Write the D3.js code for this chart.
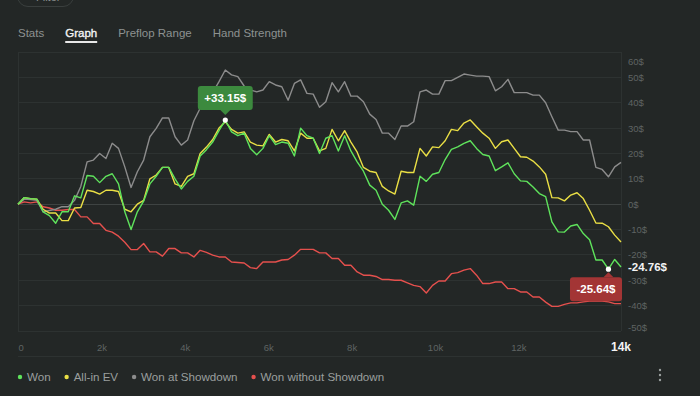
<!DOCTYPE html>
<html>
<head>
<meta charset="utf-8">
<script src="https://cdn.jsdelivr.net/npm/d3@7"></script>
<style>
  html, body { margin: 0; padding: 0; background: #232726; overflow: hidden; }
  svg { display: block; font-family: "Liberation Sans", Arial, sans-serif; }
</style>
</head>
<body>
<script>
const tabs = ['Stats', 'Graph', 'Preflop Range', 'Hand Strength']
const activeTab = 'Graph'

const totalHands = 14460
const xTicks = [0, 2000, 4000, 6000, 8000, 10000, 12000]
const yTicks = [-50, -40, -30, -20, -10, 0, 10, 20, 30, 40, 50, 60]

// cumulative winnings ($), sampled evenly from hand 0 to totalHands
const won = [0, 2.6, 2.2, 2.0, -3, -4.5, -7.5, -3, -3, 3.3,
  2.5, 11.3, 11, 8.5, 11, 12, 8, -3, -10, -3,
  1.2, 8, 11, 14.5, 14.5, 10, 6, 9, 11, 19,
  21.5, 24.5, 29, 33.15, 28.5, 27, 28, 22, 19.5, 22,
  27, 23.5, 24.5, 24, 19, 30, 27, 26, 20, 26,
  27, 21, 27, 21, 16.7, 13, 7.5, 5.5, 0, -2.4,
  -6, 0.5, 1.3, -0.4, 11, 9, 11.8, 12.5, 17.6, 21.6,
  22.6, 24, 25, 22, 19.6, 19, 13.2, 14.7, 16.3, 12,
  9.2, 9, 6.8, 4.2, 3, -7, -10.9, -11, -8.6, -8,
  -11.6, -14, -22, -22, -25.64, -21.8, -24.76]

const allInEv = [0, 2.6, 2.2, 2.0, -2, -3.5, -3.5, -6.5, -6.5, -1.5,
  -1.3, 5.5, 5, 4, 5.5, 5.5, 5, -2, -3, 0,
  1.5, 10, 11.5, 14.5, 14.5, 8, 7, 11, 12, 20,
  22.5, 25.5, 30, 32.5, 29.5, 28, 28.5, 24.5, 23.3, 23,
  27.5, 24.5, 25.5, 25, 21, 28, 26, 26, 21, 22,
  29.5, 25, 29, 24.5, 20.5, 14.5, 13, 12.5, 7, 5.2,
  4, 13, 12.5, 12.5, 22, 19, 22.6, 22.3, 25, 29.5,
  29, 32, 33.2, 30.5, 28, 26, 22, 24.6, 25.3, 22,
  18.7, 18.5, 17, 14.7, 11.8, 2.6, 2.5, 1.3, 3.6, 4.5,
  2.2, -2.4, -7.4, -7.5, -8.9, -12.2, -14.9]

const wonShowdown = [0, 2, 1.8, 1.5, -3, -2.5, -2, -1, -1, 1.5,
  7, 16.7, 17.4, 20, 18, 24, 22, 14.7, 6.6, 12.8,
  17.4, 26.6, 29.9, 34, 34, 26.6, 23.3, 25.3, 32.9, 37.8,
  41, 44, 48.3, 52.9, 51, 50.3, 46.6, 45, 44.3, 45,
  48.3, 47, 46.3, 41, 47.6, 49, 43.7, 43.4, 38.2, 40.4,
  47.9, 44.3, 48.3, 42.6, 42.6, 40.4, 35.5, 33.4, 28, 28,
  25.5, 30.8, 30.8, 32.5, 44.3, 45, 43.4, 43.4, 48.7, 48.7,
  50, 51.3, 50.9, 50.5, 50.5, 50.3, 44.7, 46.3, 49.2, 44,
  44, 44, 43, 43, 40, 34.5, 29.2, 29.2, 28.6, 28.6,
  25.3, 25.3, 14.5, 13.7, 10.8, 14.7, 16.5]

const wonNoShowdown = [0, 0.9, 0.5, 0.9, -1, -1.5, -2.4, -2.4, -2.1, -2.1,
  -5, -5, -7.6, -7.6, -10.3, -11, -12.6, -15, -17.9, -17.9,
  -15.5, -18.8, -18.8, -20.5, -17.5, -17.5, -19.2, -19.2, -20.8, -18.2,
  -19, -20.1, -20.8, -20.8, -22.8, -23, -23.2, -25, -25.4, -22.8,
  -22.8, -22.8, -22, -21.8, -20.1, -17.8, -17.8, -17.8, -19.2, -19.2,
  -21.4, -21.4, -24.1, -24.1, -26.7, -28, -28, -28.5, -29.7, -29.7,
  -30, -30, -31, -32, -32.5, -35, -32, -30.3, -30.3, -27.4,
  -27, -26, -25.4, -28, -31.3, -31.3, -30.7, -30.7, -33.3, -33.3,
  -34.6, -34.6, -36.6, -36.6, -38.6, -40.3, -40.3, -39.5, -38.9, -38.9,
  -38.5, -38.2, -38.2, -38.2, -38.5, -39.2, -39.2]

const series = [
  { name: 'Won without Showdown', values: wonNoShowdown, color: '#e5504d' },
  { name: 'Won at Showdown', values: wonShowdown, color: '#8c8c8c' },
  { name: 'All-in EV', values: allInEv, color: '#eadf45' },
  { name: 'Won', values: won, color: '#5fe35c' },
]
const legendOrder = ['Won', 'All-in EV', 'Won at Showdown', 'Won without Showdown']

const width = 700
const height = 396
const plot = { left: 18, right: 621, top: 52, bottom: 331 }

// plain hyphen for negatives, like the app
const locale = d3.formatLocale({ decimal: '.', thousands: ',', grouping: [3], currency: ['', '$'], minus: '-' })

const hands = won.map((d, i) => Math.round(i * totalHands / (won.length - 1)))

const x = d3.scaleLinear().domain([0, totalHands]).range([plot.left, plot.right])
const y = d3.scaleLinear().domain([-50, 60]).range([plot.bottom, plot.top])

const svg = d3.select('body').append('svg').attr('width', width).attr('height', height)

// filter pill, mostly scrolled off the top
svg.append('rect')
  .attr('x', 17.5).attr('y', -14.5).attr('width', 56).attr('height', 21).attr('rx', 10.5)
  .attr('fill', 'none').attr('stroke', '#3a3f3e')
svg.append('text').attr('x', 36).attr('y', 1).attr('font-size', 11).attr('fill', '#8c9190').text('Filter')

// tabs
const tabG = svg.append('g').attr('transform', 'translate(18,37)')
let tx = 0
tabs.forEach(t => {
  const active = t === activeTab
  const el = tabG.append('text')
    .attr('x', tx).attr('y', 0)
    .attr('font-size', 11.5)
    .attr('fill', active ? '#f4f4f4' : '#8d9291')
    .attr('stroke', active ? '#f4f4f4' : null)
    .attr('stroke-width', active ? 0.35 : null)
    .text(t)
  const w = el.node().getComputedTextLength()
  if (active) tabG.append('rect').attr('x', tx).attr('y', 4).attr('width', w).attr('height', 2).attr('fill', '#e8e8e8')
  tx += w + 21
})

// grid
svg.append('g')
  .selectAll('line')
  .data(yTicks)
  .join('line')
  .attr('x1', plot.left).attr('x2', plot.right)
  .attr('y1', d => y(d)).attr('y2', d => y(d))
  .attr('stroke', d => (d === 0 ? '#3e4342' : '#2d3231'))
  .attr('stroke-width', 1)
  .attr('shape-rendering', 'crispEdges')

svg.append('g')
  .selectAll('line')
  .data([plot.left, plot.right])
  .join('line')
  .attr('x1', d => d).attr('x2', d => d)
  .attr('y1', plot.top).attr('y2', plot.bottom)
  .attr('stroke', '#2d3231')
  .attr('shape-rendering', 'crispEdges')

svg.append('line')
  .attr('x1', plot.left).attr('x2', plot.right)
  .attr('y1', 356).attr('y2', 356)
  .attr('stroke', '#2d3231')
  .attr('shape-rendering', 'crispEdges')

// y axis on the right
svg.append('g')
  .attr('transform', `translate(${plot.right},0)`)
  .call(d3.axisRight(y).tickValues(yTicks).tickFormat(d => d + '$').tickSize(0).tickPadding(7))
  .call(g => g.select('.domain').remove())
  .call(g => g.attr('font-family', null).attr('font-size', null))
  .call(g =>
    g.selectAll('text')
      .attr('fill', '#5f6463')
      .attr('font-size', 9.5)
      .attr('y', d => (d === 60 ? 9 : d === -50 ? -4 : 0))
  )

// x axis
svg.append('g')
  .attr('transform', `translate(0,${plot.bottom})`)
  .call(d3.axisBottom(x).tickValues(xTicks).tickFormat(d => (d ? d / 1000 + 'k' : '0')).tickSize(0).tickPadding(13))
  .call(g => g.select('.domain').remove())
  .call(g => g.attr('font-family', null).attr('font-size', null))
  .call(g =>
    g.selectAll('text')
      .attr('fill', '#5f6463')
      .attr('font-size', 9.5)
      .attr('text-anchor', d => (d === 0 ? 'start' : 'middle'))
  )

svg.append('text')
  .attr('x', x(totalHands)).attr('y', 351)
  .attr('text-anchor', 'middle')
  .attr('font-size', 12).attr('font-weight', 'bold').attr('fill', '#f4f4f4')
  .text(Math.floor(totalHands / 1000) + 'k')

// lines
const line = d3.line().x((d, i) => x(hands[i])).y(d => y(d))

svg.append('g')
  .attr('fill', 'none')
  .attr('stroke-width', 1.4)
  .attr('stroke-linejoin', 'round')
  .selectAll('path')
  .data(series)
  .join('path')
  .attr('stroke', d => d.color)
  .attr('d', d => line(d.values))

// end value label for Won
const last = won.length - 1
svg.append('text')
  .attr('x', plot.right + 7).attr('y', y(won[last]))
  .attr('dy', '0.35em')
  .attr('font-size', 11.5).attr('font-weight', 'bold').attr('fill', '#f4f4f4')
  .text(locale.format('.2f')(won[last]) + '$')

// peak and low markers
const fmt = locale.format('+.2f')
function marker(idx, above, fill) {
  const px = x(hands[idx])
  const py = y(won[idx])
  const g = svg.append('g')
  const label = g.append('text')
    .attr('font-size', 11.5).attr('font-weight', 'bold').attr('fill', '#ffffff')
    .attr('text-anchor', 'middle')
    .text(fmt(won[idx]) + '$')
  const w = label.node().getComputedTextLength() + 13
  const h = 24
  const bx = Math.min(px - w / 2, plot.right + 1 - w)
  const by = above ? py - 10 - h : py + 8
  g.insert('rect', 'text')
    .attr('x', bx).attr('y', by).attr('width', w).attr('height', h).attr('rx', 3)
    .attr('fill', fill)
  const tip = above
    ? [[px - 5, by + h], [px + 5, by + h], [px, by + h + 5]]
    : [[px - 5, by], [px + 5, by], [px, by - 5]]
  g.insert('path', 'text').attr('d', d3.line()(tip) + 'Z').attr('fill', fill)
  label.attr('x', bx + w / 2).attr('y', by + h / 2).attr('dy', '0.36em')
  svg.append('circle').attr('cx', px).attr('cy', py).attr('r', 2.6).attr('fill', '#ffffff')
}
marker(d3.maxIndex(won), true, '#3c8a3e')
marker(d3.minIndex(won), false, '#a33535')

// legend
const legend = svg.append('g').attr('transform', 'translate(20,377)')
let lx = 0
legendOrder.forEach(name => {
  const s = series.find(d => d.name === name)
  legend.append('circle').attr('cx', lx).attr('cy', 0).attr('r', 2.2).attr('fill', s.color)
  const t = legend.append('text')
    .attr('x', lx + 7).attr('y', 4)
    .attr('font-size', 11.6).attr('fill', '#9a9f9e')
    .text(name)
  lx += 7 + t.node().getComputedTextLength() + 16
})

// kebab menu
svg.append('g')
  .selectAll('circle')
  .data([370, 375, 380])
  .join('circle')
  .attr('cx', 660).attr('cy', d => d).attr('r', 1.2)
  .attr('fill', '#9a9f9e')
</script>
</body>
</html>
